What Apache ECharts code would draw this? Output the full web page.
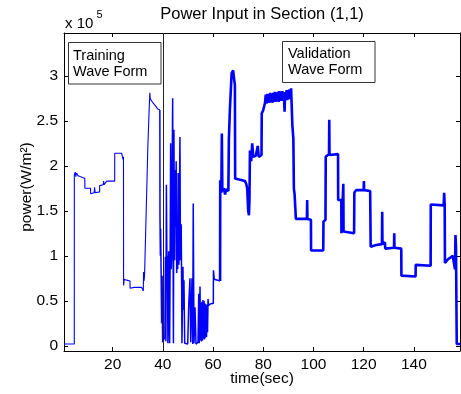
<!DOCTYPE html>
<html>
<head>
<meta charset="utf-8">
<script src="https://cdn.jsdelivr.net/npm/echarts@6/dist/echarts.min.js"></script>
<style>
html,body{margin:0;padding:0;background:#fff;}
#chart{width:461px;height:394px;}
</style>
</head>
<body>
<div id="chart"></div>
<script>
// time (sec), power (x 1e5 W/m^2)
const powerTraining = [
 [0.6,0.02],[4.7,0.02],[4.72,1.90],[5.1,1.93],[5.3,1.88],[5.6,1.92],[6.2,1.89],[7.0,1.88],[8.0,1.87],[8.9,1.86],
 [8.92,1.75],[11.2,1.75],[11.22,1.69],[12.6,1.70],[12.8,1.76],[13.0,1.70],[14.8,1.71],[14.82,1.78],[16.2,1.79],
 [16.4,1.83],[16.6,1.79],[17.6,1.83],[20.8,1.83],[20.82,2.14],[23.6,2.14],[23.9,2.12],[24.1,2.07],[24.3,2.10],
 [24.35,0.67],[24.6,0.74],[25.6,0.73],[25.8,0.72],[26.9,0.72],[26.92,0.64],[28.6,0.65],[29.0,0.66],[31.5,0.65],
 [32.0,0.66],[32.2,0.61],[32.3,0.82],[32.5,0.72],[32.7,0.78],[33.0,0.80],[34.0,2.20],[34.5,2.60],[34.8,2.81],
 [35.0,2.74],[35.3,2.76],[35.8,2.71],[36.5,2.69],[37.2,2.66],[37.6,2.67],[38.0,2.63],[38.8,2.62]
];
const powerBurst = [
 [38.85,1.45],[39.0,1.00],[39.1,1.30],[39.3,0.82],[39.5,0.25],[39.7,0.78],[39.9,0.04],[40.5,0.03],[40.8,0.10],
 [41.0,0.99],[41.2,0.05],[41.4,1.79],[41.6,0.95],[41.8,1.00],[42.0,0.03],[42.3,1.05],[42.5,0.30],[42.7,0.03],
 [42.9,1.00],[43.1,2.25],[43.3,0.85],[43.5,0.99],[43.7,1.90],[43.9,2.75],[44.1,0.80],[44.2,0.03],[44.4,2.40],
 [44.6,1.20],[44.7,0.95],[44.9,1.95],[45.1,1.32],[45.3,2.05],[45.5,0.81],[45.7,1.40],[45.9,0.85],[46.1,1.92],
 [46.3,1.30],[46.4,0.90],[46.6,1.60],[46.8,2.32],[47.0,0.95],[47.1,1.10],[47.3,1.35],[47.5,0.60],[47.6,0.03],
 [48.0,0.88],[48.2,0.40],[48.4,0.73],[48.7,0.03],[49.3,0.05],[49.9,0.02],[50.3,0.45],[50.8,0.75],[51.1,0.04],
 [51.6,0.75],[51.9,0.02],[52.1,1.58],[52.4,0.03],[52.8,0.43],[53.2,0.02],[54.0,0.04],[54.3,0.58],[54.5,0.03],
 [54.8,0.66],[55.0,0.06],[55.2,0.48],[55.4,0.05],[55.6,0.49],[55.8,0.06],[56.0,0.51],[56.2,0.08],[56.4,0.50],
 [56.6,0.07],[56.8,0.47],[57.0,0.09],[57.2,0.46],[57.4,0.10],[57.6,0.46],[57.8,0.15],[58.0,0.52],[58.2,0.45],
 [59.2,0.47],[60.1,0.47],[60.15,0.84],[60.5,0.74],[61.0,0.76],[62.8,0.72]
];
const powerValidationA = [
 [62.85,1.84],[63.3,1.70],[63.5,2.36],[63.7,1.72],[64.3,1.75],[64.8,1.68],[65.2,1.74],[66.1,1.72],[66.3,2.29],
 [66.7,2.62],[67.4,3.03],[68.0,3.06],[68.4,2.96],[68.7,2.90],[68.8,1.86],[70.0,1.85],[72.7,1.83],[73.2,1.80],
 [73.6,1.75],[74.0,1.50],[74.3,1.45],[74.5,1.62],[74.7,2.17],[75.2,2.05],[75.6,2.25],[76.0,2.10],[77.0,2.11],
 [77.8,2.22],[78.2,2.10],[79.3,2.12],[79.4,2.58],[80.0,2.62],[80.7,2.70],[81.0,2.79],[81.3,2.69],[81.6,2.80],
 [81.9,2.70],[82.2,2.80],[82.5,2.70],[82.8,2.81],[83.1,2.71],[83.4,2.80],[83.7,2.70],[84.0,2.81],[84.3,2.71],
 [84.6,2.82],[84.9,2.71],[85.2,2.81],[85.5,2.72],[85.8,2.82],[86.1,2.71],[86.4,2.83],[86.7,2.72],[87.0,2.82],
 [87.3,2.72],[87.6,2.83],[87.9,2.72],[88.2,2.82],[88.5,2.60],[88.7,2.80],[89.0,2.73],[89.3,2.84],[89.6,2.73],
 [89.9,2.84],[90.2,2.74],[90.5,2.85],[90.8,2.74],[91.1,2.86],[91.3,2.88],[91.6,2.45],[92.0,2.30],[92.2,1.75],
 [92.5,1.68]
];
const powerValidationB = [
 [93.0,1.41],[97.4,1.41],[97.5,1.62],[97.6,1.41],[99.0,1.40],[99.05,1.06],[103.9,1.06],[104.0,1.38],[104.8,1.40],
 [104.9,2.10],[106.2,2.13],[106.3,2.51],[106.4,2.12],[109.8,2.13],[109.85,1.62],[111.1,1.62],[111.15,1.25],
 [111.8,1.27],[111.9,1.80],[112.0,1.27],[116.2,1.25],[116.3,1.70],[117.0,1.73],[120.0,1.73],[120.1,1.83],
 [120.2,1.73],[122.6,1.72],[122.8,1.10],[123.2,1.09],[125.0,1.12],[127.3,1.13],[127.4,1.49],[127.5,1.13],
 [128.5,1.15],[128.6,1.08],[132.1,1.09],[132.2,1.25],[132.3,1.09],[135.0,1.08],[135.05,0.78],[140.7,0.77],
 [140.75,0.90],[146.7,0.89],[146.75,1.57],[151.9,1.56],[152.1,1.70],[152.3,1.56],[152.4,0.92],[153.5,0.96],
 [155.5,1.00],[156.2,1.02],[156.4,0.85],[156.6,1.23],[156.8,1.10],[157.1,0.02],[158.4,0.02]
];
const xTicks = [20, 40, 60, 80, 100, 120, 140];
const yTicks = [0, 0.5, 1, 1.5, 2, 2.5, 3];
const splitTime = 40;
const xRange = [0.6, 158.4];
const yRange = [-0.057, 3.475];

const chart = echarts.init(document.getElementById('chart'), null, {renderer: 'canvas'});
const font = 'Liberation Sans, Arial, Helvetica, sans-serif';
const thin = powerTraining;
const burst = [powerTraining[powerTraining.length - 1]].concat(powerBurst);
const thick = [powerBurst[powerBurst.length - 1]].concat(powerValidationA, powerValidationB);

function xAx(pos, labels) {
  return {
    type: 'value', position: pos, min: xRange[0], max: xRange[1],
    axisLine: {show: true, onZero: false, lineStyle: {color: '#000', width: 1}},
    axisTick: {show: true, inside: true, length: 4, customValues: xTicks, lineStyle: {color: '#000'}},
    axisLabel: {show: labels, customValues: xTicks, color: '#000', fontSize: 15.5, fontFamily: font, margin: 6},
    splitLine: {show: false}
  };
}
function yAx(pos, labels) {
  return {
    type: 'value', position: pos, min: yRange[0], max: yRange[1],
    axisLine: {show: true, onZero: false, lineStyle: {color: '#000', width: 1}},
    axisTick: {show: true, inside: true, length: 4, customValues: yTicks, lineStyle: {color: '#000'}},
    axisLabel: {show: labels, customValues: yTicks, color: '#000', fontSize: 15.5, fontFamily: font, margin: 6},
    splitLine: {show: false}
  };
}

chart.setOption({
  animation: false,
  backgroundColor: '#fff',
  grid: {left: 64, right: 1, top: 33, bottom: 43, containLabel: false},
  xAxis: [xAx('bottom', true), xAx('top', false)],
  yAxis: [yAx('left', true), yAx('right', false)],
  series: [
    {type: 'line', data: thin, showSymbol: false, symbol: 'none',
     lineStyle: {color: '#0000ff', width: 1.1}, z: 3,
     markLine: {silent: true, symbol: 'none', label: {show: false},
       lineStyle: {color: '#222', width: 1, type: 'solid'}, data: [{xAxis: splitTime}]}},
    {type: 'line', data: burst, showSymbol: false, symbol: 'none',
     lineStyle: {color: '#0000ff', width: 1.5}, z: 3},
    {type: 'line', data: thick, showSymbol: false, symbol: 'none',
     lineStyle: {color: '#0000ff', width: 2.6}, z: 3}
  ],
  graphic: [
    {type: 'text', x: 262, y: 14, style: {text: 'Power Input in Section (1,1)', font: '16.5px ' + font, fill: '#000', align: 'center', verticalAlign: 'middle'}},
    {type: 'text', x: 65, y: 23.5, style: {text: 'x 10', font: '15px ' + font, fill: '#000', align: 'left', verticalAlign: 'middle'}},
    {type: 'text', x: 96.5, y: 15, style: {text: '5', font: '11px ' + font, fill: '#000', align: 'left', verticalAlign: 'middle'}},
    {type: 'text', x: 262, y: 379, style: {text: 'time(sec)', font: '15.5px ' + font, fill: '#000', align: 'center', verticalAlign: 'middle'}},
    {type: 'text', x: 27, y: 187, rotation: Math.PI / 2, style: {text: 'power(W/m²)', font: '15.5px ' + font, fill: '#000', align: 'center', verticalAlign: 'middle'}},
    {type: 'rect', shape: {x: 68.5, y: 42.5, width: 92.5, height: 41.5}, style: {fill: '#fff', stroke: '#333', lineWidth: 1}, z: 10},
    {type: 'text', x: 73, y: 56, z: 11, style: {text: 'Training', font: '14.5px ' + font, fill: '#000', align: 'left', verticalAlign: 'middle'}},
    {type: 'text', x: 73, y: 72, z: 11, style: {text: 'Wave Form', font: '14.5px ' + font, fill: '#000', align: 'left', verticalAlign: 'middle'}},
    {type: 'rect', shape: {x: 282.5, y: 41.5, width: 92.5, height: 41}, style: {fill: '#fff', stroke: '#333', lineWidth: 1}, z: 10},
    {type: 'text', x: 288, y: 54, z: 11, style: {text: 'Validation', font: '14.5px ' + font, fill: '#000', align: 'left', verticalAlign: 'middle'}},
    {type: 'text', x: 288, y: 70, z: 11, style: {text: 'Wave Form', font: '14.5px ' + font, fill: '#000', align: 'left', verticalAlign: 'middle'}}
  ]
});
</script>
</body>
</html>
